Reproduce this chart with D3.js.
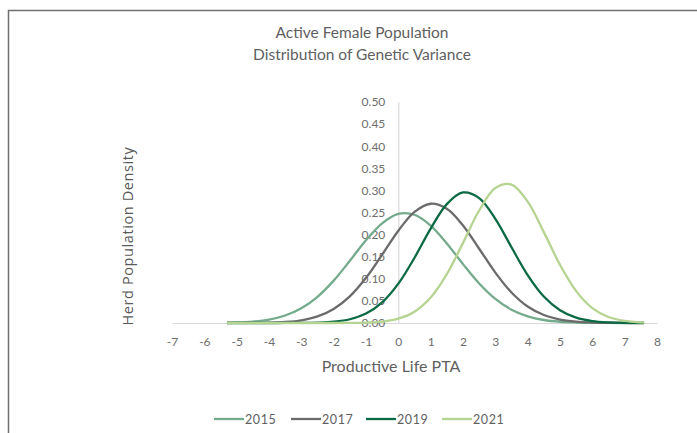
<!DOCTYPE html>
<html>
<head>
<meta charset="utf-8">
<script src="https://cdn.jsdelivr.net/npm/d3@7"></script>
<style>
  body { margin: 0; background: #fff; }
  svg { display: block; }
</style>
</head>
<body>
<svg id="chart"></svg>
<script>
// GLOBALS
var w = 697, h = 433;

// data (density per PTA value)
var years = ["2015", "2017", "2019", "2021"];
var colors = ["#74ab8c", "#6b6b6b", "#0b6a43", "#b6d491"];
var pta = [-5.3, -5, -4.5, -4, -3.5, -3, -2.5, -2, -1.5, -1, -0.5, 0, 0.5, 1, 1.5, 2, 2.5, 3, 3.5, 4, 4.5, 5, 5.5, 6, 6.5, 7, 7.5, 7.6];
var d2015 = [0.0007, 0.0012, 0.0033, 0.0078, 0.0169, 0.0333, 0.0593, 0.0959, 0.1407, 0.1871, 0.2256, 0.2469, 0.2449, 0.2204, 0.1799, 0.1332, 0.0894, 0.0545, 0.0301, 0.0151, 0.0068, 0.0028, 0.0011, 0.0004, 0.0001, 0.0000, 0.0000, 0.0000];
var d2017 = [0.0000, 0.0001, 0.0002, 0.0008, 0.0023, 0.0062, 0.0148, 0.0317, 0.0602, 0.1022, 0.1547, 0.2088, 0.2513, 0.2698, 0.2583, 0.2206, 0.1680, 0.1141, 0.0691, 0.0373, 0.0180, 0.0077, 0.0030, 0.0010, 0.0003, 0.0001, 0.0000, 0.0000];
var d2019 = [0.0000, 0.0000, 0.0000, 0.0000, 0.0001, 0.0002, 0.0009, 0.0030, 0.0085, 0.0214, 0.0467, 0.0890, 0.1476, 0.2135, 0.2690, 0.2953, 0.2826, 0.2357, 0.1713, 0.1085, 0.0599, 0.0288, 0.0121, 0.0044, 0.0014, 0.0004, 0.0001, 0.0001];
var d2021 = [0.0000, 0.0000, 0.0000, 0.0000, 0.0000, 0.0000, 0.0000, 0.0000, 0.0002, 0.0009, 0.0032, 0.0097, 0.0256, 0.0575, 0.1104, 0.1813, 0.2545, 0.3054, 0.3131, 0.2745, 0.2056, 0.1316, 0.0721, 0.0337, 0.0135, 0.0046, 0.0013, 0.0010];
var xTicks = [-7, -6, -5, -4, -3, -2, -1, 0, 1, 2, 3, 4, 5, 6, 7, 8];
var yTicks = [0, 0.05, 0.1, 0.15, 0.2, 0.25, 0.3, 0.35, 0.4, 0.45, 0.5];

var series = [d2015, d2017, d2019, d2021];

var svg = d3.select("#chart").attr("width", w).attr("height", h);

// frame (only top + left edge visible)
svg.append("path")
  .attr("d", "M8.5," + h + "V10.5H" + w)
  .attr("fill", "none")
  .attr("stroke", "#707070")
  .attr("stroke-width", 1.5);

var x = d3.scaleLinear().domain([-7, 8]).range([172, 657]);
var y = d3.scaleLinear().domain([0, 0.5]).range([323, 102]);

// title
var title = svg.append("text")
  .attr("text-anchor", "middle")
  .attr("font-family", "Lato")
  .attr("font-size", 15.5)
  .attr("fill", "#5f5f5f");
title.append("tspan").attr("x", 362).attr("y", 38).text("Active Female Population");
title.append("tspan").attr("x", 362).attr("y", 60).text("Distribution of Genetic Variance");

// x axis (plain hyphen minus like the original)
var xAxis = svg.append("g")
  .attr("transform", "translate(0," + y(0) + ")")
  .call(d3.axisBottom(x).tickValues(xTicks).tickSize(0).tickPadding(14).tickFormat(function(d) { return String(d); }));
xAxis.select(".domain").attr("stroke", "#d9d9d9").attr("stroke-width", 1.2);
xAxis.selectAll("text")
  .attr("font-family", "Lato")
  .attr("font-size", 12)
  .attr("fill", "#6e6e6e");

// y axis sits on x = 0
var yAxis = svg.append("g")
  .attr("transform", "translate(" + x(0) + ",0)")
  .call(d3.axisLeft(y).tickValues(yTicks).tickSize(0).tickPadding(13).tickFormat(d3.format(".2f")));
yAxis.select(".domain").attr("stroke", "#d9d9d9").attr("stroke-width", 1.2);
yAxis.selectAll("text")
  .attr("font-family", "Lato")
  .attr("font-size", 12)
  .attr("fill", "#6e6e6e");

// axis titles
svg.append("text")
  .attr("x", 391).attr("y", 372)
  .attr("text-anchor", "middle")
  .attr("font-family", "Lato")
  .attr("font-size", 16)
  .attr("fill", "#5f5f5f")
  .text("Productive Life PTA");

svg.append("text")
  .attr("transform", "translate(133,236) rotate(-90)")
  .attr("text-anchor", "middle")
  .attr("font-family", "Open Sans")
  .attr("font-size", 14.5)
  .attr("letter-spacing", 0.6)
  .attr("fill", "#595959")
  .text("Herd Population Density");

// curves
var line = d3.line()
  .x(function(d, i) { return x(pta[i]); })
  .y(function(d) { return y(d); })
  .curve(d3.curveCatmullRom.alpha(0.5));

svg.selectAll(".curve")
  .data(series)
  .enter().append("path")
    .attr("class", "curve")
    .attr("d", line)
    .attr("fill", "none")
    .attr("stroke", function(d, i) { return colors[i]; })
    .attr("stroke-width", 2.3);

// legend
var legendX = [214, 291, 366, 442];
var leg = svg.selectAll(".leg")
  .data(years)
  .enter().append("g")
    .attr("class", "leg")
    .attr("transform", function(d, i) { return "translate(" + legendX[i] + ",419)"; });
leg.append("line")
  .attr("x1", 0).attr("x2", 30)
  .attr("stroke", function(d, i) { return colors[i]; })
  .attr("stroke-width", 2.3);
leg.append("text")
  .attr("x", 31).attr("y", 4.5)
  .attr("font-family", "Lato")
  .attr("font-size", 12.5)
  .attr("letter-spacing", 0.6)
  .attr("fill", "#5f5f5f")
  .text(function(d) { return d; });
</script>
</body>
</html>
